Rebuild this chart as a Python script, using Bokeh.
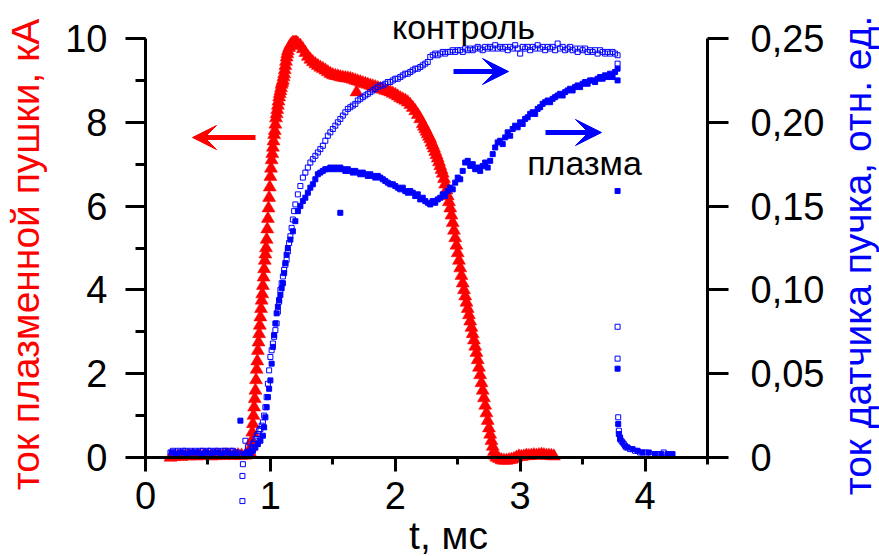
import math
from bokeh.plotting import figure
from bokeh.models import (Range1d, LinearAxis, SingleIntervalTicker, FixedTicker,
                          CustomJSTickFormatter, Label, Arrow, VeeHead)
from bokeh.embed import file_html
from bokeh.resources import INLINE

# ---------------- data ----------------
# plasma gun current, kA (left axis)
gun_t = [0.20, 0.23, 0.26, 0.29, 0.32, 0.35, 0.38, 0.41, 0.44, 0.47, 0.50, 0.53, 0.56, 0.59, 0.62,
         0.65, 0.68, 0.71, 0.74, 0.77, 0.80, 0.82,
         0.840, 0.845, 0.850, 0.855, 0.860, 0.865, 0.870, 0.875, 0.880, 0.885, 0.890, 0.895,
         0.900, 0.905, 0.910, 0.915, 0.920, 0.925, 0.930, 0.935, 0.940, 0.945, 0.950, 0.955,
         0.960, 0.965, 0.970, 0.975, 0.980, 0.985, 0.990, 0.995, 1.000, 1.005, 1.010, 1.015,
         1.020, 1.025, 1.030, 1.035, 1.040, 1.045, 1.050, 1.055, 1.060, 1.065, 1.070, 1.075,
         1.080, 1.085, 1.090, 1.095, 1.100, 1.105, 1.110, 1.115, 1.120, 1.125, 1.130, 1.135,
         1.140, 1.15, 1.16, 1.17, 1.18, 1.19, 1.20, 1.21, 1.22,
         1.24, 1.26, 1.28, 1.30, 1.32, 1.34, 1.36, 1.38, 1.40, 1.42, 1.44, 1.46, 1.48, 1.50,
         1.52, 1.54, 1.56, 1.58, 1.60, 1.62, 1.64, 1.66, 1.68, 1.69, 1.70, 1.72, 1.74, 1.76, 1.78,
         1.80, 1.82, 1.84, 1.86, 1.88, 1.90, 1.92, 1.94, 1.96, 1.98, 2.00, 2.02, 2.04, 2.06,
         2.08, 2.10, 2.12, 2.14, 2.16, 2.18, 2.20, 2.22,
         2.23, 2.24, 2.25, 2.26, 2.27, 2.28, 2.29, 2.30, 2.31, 2.32, 2.33, 2.34, 2.35, 2.36,
         2.37, 2.38, 2.39, 2.40, 2.41, 2.42, 2.43, 2.44, 2.45, 2.46, 2.47, 2.48, 2.49, 2.50,
         2.51, 2.52, 2.53, 2.54, 2.55, 2.56, 2.57, 2.58, 2.59, 2.60, 2.61, 2.62, 2.63, 2.64,
         2.65, 2.66, 2.67, 2.68, 2.69, 2.70, 2.71, 2.72, 2.73, 2.74, 2.75, 2.76, 2.77, 2.78,
         2.79, 2.80, 2.81,
         2.83, 2.85, 2.87, 2.89, 2.91, 2.93, 2.95, 2.97, 2.99, 3.01, 3.03, 3.05, 3.07, 3.09,
         3.11, 3.13, 3.15, 3.17, 3.19, 3.21, 3.23, 3.25, 3.27]
gun_ka = [0.00, 0.02, 0.03, 0.02, 0.04, 0.03, 0.05, 0.03, 0.04, 0.05, 0.04, 0.03, 0.05, 0.04, 0.05,
          0.06, 0.05, 0.04, 0.06, 0.05, 0.05, 0.08,
          0.10, 0.25, 0.40, 0.60, 0.80, 1.00, 1.20, 1.40, 1.60, 1.85, 2.10, 2.30,
          2.55, 2.75, 2.95, 3.15, 3.35, 3.55, 3.75, 3.90, 4.10, 4.30, 4.50, 4.70,
          4.85, 5.00, 5.20, 5.45, 5.70, 5.95, 6.20, 6.45, 6.70, 6.90, 7.10, 7.25,
          7.40, 7.55, 7.70, 7.80, 7.95, 8.10, 8.20, 8.30, 8.40, 8.50, 8.60, 8.68,
          8.75, 8.82, 8.90, 8.95, 9.00, 9.08, 9.15, 9.25, 9.35, 9.45, 9.55, 9.63,
          9.70, 9.78, 9.84, 9.87, 9.90, 9.90, 9.90, 9.90, 9.88,
          9.83, 9.75, 9.66, 9.57, 9.50, 9.44, 9.39, 9.35, 9.31, 9.28, 9.24, 9.20, 9.16, 9.13,
          9.11, 9.10, 9.08, 9.07, 9.06, 9.05, 9.04, 9.02, 9.00, 8.72, 8.98, 8.96, 8.94, 8.92, 8.90,
          8.88, 8.86, 8.84, 8.82, 8.80, 8.78, 8.76, 8.74, 8.72, 8.69, 8.66, 8.62, 8.58, 8.55,
          8.52, 8.48, 8.42, 8.35, 8.27, 8.18, 8.08, 7.96,
          7.90, 7.84, 7.78, 7.72, 7.66, 7.60, 7.52, 7.45, 7.38, 7.30, 7.22, 7.14, 7.05, 6.96,
          6.87, 6.78, 6.65, 6.52, 6.38, 6.24, 6.10, 5.95, 5.78, 5.60, 5.42, 5.24, 5.06, 4.88,
          4.70, 4.52, 4.34, 4.16, 4.00, 3.85, 3.70, 3.55, 3.40, 3.25, 3.10, 2.95, 2.80, 2.65,
          2.50, 2.33, 2.15, 1.97, 1.78, 1.60, 1.42, 1.24, 1.06, 0.88, 0.70, 0.55, 0.40, 0.26,
          0.14, 0.05, 0.00,
          -0.03, -0.06, -0.07, -0.07, -0.06, -0.05, -0.03, 0.00, 0.03, 0.02, 0.03, 0.05, 0.04, 0.05,
          0.06, 0.05, 0.06, 0.07, 0.06, 0.05, 0.05, 0.04, 0.03]

# beam sensor current, "контроль" (open squares), rel. units (right axis)
ctrl_t = [0.20, 0.22, 0.24, 0.26, 0.28, 0.30, 0.32, 0.34, 0.36, 0.38, 0.40, 0.42, 0.44, 0.46, 0.48,
          0.50, 0.52, 0.54, 0.56, 0.58, 0.60, 0.62, 0.64, 0.66, 0.68, 0.70, 0.72, 0.74, 0.76, 0.776,
          0.776, 0.78, 0.80, 0.81, 0.82,
          0.84, 0.85, 0.86, 0.87, 0.88, 0.89, 0.90, 0.91, 0.92, 0.93, 0.94, 0.95, 0.96, 0.97,
          0.98, 0.99, 1.00, 1.01, 1.02, 1.03, 1.04, 1.05, 1.06, 1.07, 1.08, 1.09, 1.10, 1.11,
          1.12, 1.13, 1.14, 1.15, 1.16, 1.17, 1.18, 1.19, 1.20,
          1.22, 1.24, 1.26, 1.28, 1.30, 1.32, 1.34, 1.36, 1.38, 1.40, 1.42, 1.44, 1.46, 1.48,
          1.50, 1.52, 1.54, 1.56, 1.58, 1.60, 1.62, 1.64, 1.66, 1.68, 1.70, 1.72, 1.74, 1.76,
          1.78, 1.80, 1.82, 1.84, 1.86, 1.88, 1.90, 1.92, 1.94, 1.96, 1.98, 2.00, 2.02, 2.04,
          2.06, 2.08, 2.10, 2.12, 2.14, 2.16, 2.18, 2.20, 2.22, 2.24, 2.26,
          2.28, 2.30, 2.32, 2.34, 2.36, 2.38, 2.40, 2.42, 2.44, 2.46, 2.48, 2.50, 2.52, 2.54,
          2.56, 2.58, 2.60, 2.62, 2.64, 2.66, 2.68, 2.70, 2.72, 2.74, 2.76, 2.78, 2.80, 2.82,
          2.84, 2.86, 2.88, 2.90, 2.92, 2.94, 2.96, 2.98, 3.00, 3.02, 3.04, 3.06, 3.08, 3.10,
          3.12, 3.14, 3.16, 3.18, 3.20, 3.22, 3.24, 3.26, 3.28, 3.30, 3.32, 3.34, 3.36, 3.38,
          3.40, 3.42, 3.44, 3.46, 3.48, 3.50, 3.52, 3.54, 3.56, 3.58, 3.60, 3.62, 3.64, 3.66,
          3.68, 3.70, 3.72, 3.74, 3.76, 3.78, 3.78,
          3.78, 3.78, 3.785, 3.79, 3.80, 3.81, 3.83, 3.85, 3.88, 3.92, 3.96, 4.00, 4.05, 4.10,
          4.15, 4.20]
ctrl_v = [0.003, 0.004, 0.003, 0.004, 0.003, 0.004, 0.004, 0.003, 0.004, 0.003, 0.004, 0.003, 0.004, 0.004, 0.003,
          0.004, 0.004, 0.003, 0.004, 0.004, 0.003, 0.004, 0.004, 0.003, 0.004, 0.004, 0.003, 0.003, 0.002, -0.011,
          -0.026, -0.004, 0.010, 0.003, 0.006,
          0.004, 0.006, 0.008, 0.009, 0.011, 0.013, 0.014, 0.016, 0.017, 0.019, 0.021, 0.025, 0.030, 0.036,
          0.044, 0.052, 0.060, 0.064, 0.068, 0.072, 0.076, 0.080, 0.087, 0.093, 0.100, 0.104, 0.108, 0.112,
          0.115, 0.118, 0.123, 0.128, 0.132, 0.137, 0.142, 0.147, 0.151,
          0.157, 0.162, 0.167, 0.170, 0.173, 0.176, 0.178, 0.180, 0.182, 0.184, 0.186, 0.189, 0.192, 0.194,
          0.196, 0.198, 0.200, 0.202, 0.204, 0.206, 0.208, 0.209, 0.210, 0.211, 0.213, 0.214, 0.215, 0.216,
          0.217, 0.218, 0.219, 0.220, 0.221, 0.222, 0.222, 0.223, 0.224, 0.224, 0.225, 0.226, 0.226, 0.227,
          0.228, 0.229, 0.229, 0.230, 0.231, 0.232, 0.232, 0.233, 0.234, 0.235, 0.236,
          0.239, 0.240, 0.241, 0.240, 0.241, 0.242, 0.241, 0.242, 0.242, 0.243, 0.242, 0.243, 0.243, 0.242,
          0.244, 0.243, 0.244, 0.243, 0.244, 0.245, 0.244, 0.243, 0.245, 0.244, 0.245, 0.244, 0.246, 0.244,
          0.245, 0.244, 0.245, 0.243, 0.245, 0.244, 0.246, 0.244, 0.241, 0.245, 0.244, 0.245, 0.243, 0.245,
          0.244, 0.246, 0.244, 0.245, 0.243, 0.245, 0.244, 0.245, 0.243, 0.247, 0.244, 0.245, 0.243, 0.244,
          0.245, 0.243, 0.244, 0.242, 0.244, 0.243, 0.244, 0.242, 0.243, 0.242, 0.243, 0.241, 0.243, 0.242,
          0.241, 0.242, 0.241, 0.242, 0.241, 0.240, 0.235,
          0.078, 0.059, 0.024, 0.016, 0.012, 0.010, 0.008, 0.006, 0.005, 0.004, 0.003, 0.003, 0.002, 0.002,
          0.003, 0.002]

# beam sensor current, "плазма" (filled squares), rel. units (right axis)
plasma_t = [0.21, 0.25, 0.29, 0.33, 0.37, 0.41, 0.45, 0.49, 0.53, 0.57, 0.61, 0.65, 0.69, 0.73, 0.76,
            0.79, 0.82,
            0.84, 0.86, 0.88, 0.90, 0.92, 0.94, 0.95, 0.96, 0.97, 0.98, 0.99, 1.00, 1.01, 1.02,
            1.03, 1.04, 1.05, 1.06, 1.07, 1.08, 1.09, 1.10, 1.11, 1.12, 1.13, 1.14, 1.16, 1.18,
            1.20, 1.22, 1.24, 1.26, 1.28, 1.30, 1.32, 1.34, 1.36, 1.38, 1.40, 1.42, 1.44, 1.46,
            1.48, 1.50, 1.52, 1.54, 1.56, 1.56, 1.58, 1.60, 1.62, 1.64, 1.66, 1.68, 1.70, 1.72, 1.74,
            1.76, 1.78, 1.80, 1.82, 1.84, 1.86, 1.88, 1.90, 1.92, 1.94, 1.96, 1.98, 2.00, 2.02,
            2.04, 2.06, 2.08, 2.10, 2.12, 2.14, 2.16, 2.18, 2.20, 2.22, 2.24, 2.26, 2.28, 2.30,
            2.32, 2.34, 2.36, 2.38, 2.40, 2.42, 2.44, 2.46, 2.48, 2.50, 2.52, 2.54, 2.56, 2.58,
            2.60, 2.62, 2.64, 2.66, 2.68, 2.70, 2.72, 2.74, 2.76, 2.78, 2.80, 2.82, 2.84, 2.86,
            2.88, 2.90, 2.92, 2.94, 2.96, 2.98, 3.00, 3.02, 3.04, 3.06, 3.08, 3.10, 3.12, 3.14,
            3.16, 3.18, 3.20, 3.22, 3.24, 3.26, 3.28, 3.30, 3.32, 3.34, 3.36, 3.38, 3.40, 3.42,
            3.44, 3.46, 3.48, 3.50, 3.52, 3.54, 3.56, 3.58, 3.60, 3.62, 3.64, 3.66, 3.68, 3.70,
            3.72, 3.74, 3.76, 3.78, 3.78,
            3.78, 3.78, 3.785, 3.79, 3.80, 3.82, 3.84, 3.86, 3.90, 3.94, 3.98, 4.03, 4.08, 4.13,
            4.18, 4.22]
plasma_v = [0.003, 0.002, 0.003, 0.002, 0.003, 0.003, 0.002, 0.003, 0.002, 0.003, 0.002, 0.003, 0.002, 0.002, 0.022,
            0.002, 0.003,
            0.002, 0.004, 0.006, 0.008, 0.010, 0.013, 0.018, 0.024, 0.030, 0.036, 0.041, 0.046, 0.056, 0.066,
            0.073, 0.080, 0.086, 0.090, 0.094, 0.097, 0.101, 0.104, 0.110, 0.116, 0.121, 0.125, 0.130, 0.135,
            0.141, 0.147, 0.150, 0.153, 0.155, 0.158, 0.161, 0.163, 0.166, 0.169, 0.170, 0.171, 0.172, 0.172,
            0.173, 0.172, 0.173, 0.172, 0.173, 0.146, 0.172, 0.171, 0.172, 0.171, 0.170, 0.171, 0.170, 0.169, 0.170,
            0.169, 0.168, 0.169, 0.168, 0.167, 0.168, 0.167, 0.166, 0.165, 0.164, 0.163, 0.163, 0.162, 0.161,
            0.160, 0.161, 0.159, 0.158, 0.159, 0.158, 0.156, 0.157, 0.154, 0.155, 0.153, 0.152, 0.151, 0.153,
            0.152, 0.154, 0.155, 0.157, 0.156, 0.159, 0.161, 0.160, 0.164, 0.167, 0.166, 0.171, 0.176, 0.177,
            0.174, 0.175, 0.172, 0.173, 0.171, 0.174, 0.176, 0.173, 0.177, 0.181, 0.185, 0.188, 0.189, 0.187,
            0.191, 0.194, 0.192, 0.196, 0.198, 0.197, 0.200, 0.199, 0.202, 0.203, 0.205, 0.206, 0.205, 0.208,
            0.209, 0.211, 0.212, 0.213, 0.212, 0.214, 0.215, 0.216, 0.217, 0.216, 0.218, 0.219, 0.220, 0.219,
            0.221, 0.222, 0.221, 0.223, 0.224, 0.223, 0.225, 0.225, 0.224, 0.226, 0.227, 0.226, 0.228, 0.227,
            0.229, 0.227, 0.230, 0.232, 0.225,
            0.159, 0.053, 0.020, 0.014, 0.011, 0.009, 0.007, 0.006, 0.005, 0.004, 0.003, 0.003, 0.002, 0.002,
            0.002, 0.002]

x_ticks = [0, 1, 2, 3, 4]
left_ticks = [0, 2, 4, 6, 8, 10]
right_ticks = [0.0, 0.05, 0.10, 0.15, 0.20, 0.25]
x_end = 4.5

RED = "#ff0000"
BLUE = "#0000ff"
FONT = "Liberation Sans"
TICK_FS = "38px"
LABEL_FS = "39px"
NOTE_FS = "34px"

W, H = 879, 556
# screen placement of the axes box: x 0 -> 145 px, 4.5 -> 707 px; y 0 -> 457 px, 10 -> 38 px
XL, XR, YB, YT = 145, 707, 457, 38
SX = (XR - XL) / (x_end - x_ticks[0])
SY = (YB - YT) / (left_ticks[-1] - left_ticks[0])
X0, X1 = -XL / SX, (W - XL) / SX
Y0, Y1 = -(H - YB) / SY, YB / SY
RS = right_ticks[-1] / left_ticks[-1]


def dx(px):
    return (px - XL) / SX


def dy(py):
    return (YB - py) / SY


p = figure(width=W, height=H, x_range=Range1d(X0, X1), y_range=Range1d(Y0, Y1),
           output_backend="svg", toolbar_location=None,
           min_border_left=0, min_border_right=0, min_border_top=0, min_border_bottom=0,
           x_axis_location=None, y_axis_location=None)
p.extra_y_ranges = {"beam": Range1d(Y0 * RS, Y1 * RS)}
p.outline_line_color = None
p.grid.visible = False
p.background_fill_color = "white"
p.border_fill_color = "white"


def style_axis(ax, tick_out, minor_out):
    ax.axis_line_width = 3
    ax.axis_line_color = "black"
    ax.major_tick_line_width = 3
    ax.minor_tick_line_width = 3
    ax.major_tick_in = 0
    ax.minor_tick_in = 0
    ax.major_tick_out = tick_out
    ax.minor_tick_out = minor_out
    ax.major_label_text_font = FONT
    ax.major_label_text_font_size = TICK_FS
    ax.major_label_text_color = "black"


xaxis = LinearAxis(ticker=SingleIntervalTicker(interval=1, num_minor_ticks=2),
                   bounds=(x_ticks[0], x_end))
style_axis(xaxis, 14, 7)
xaxis.major_label_standoff = 10
xaxis.fixed_location = 0
p.add_layout(xaxis, "below")

yaxis = LinearAxis(ticker=SingleIntervalTicker(interval=2, num_minor_ticks=2),
                   bounds=(left_ticks[0], left_ticks[-1]))
style_axis(yaxis, 20, 10)
yaxis.major_label_standoff = 18
yaxis.fixed_location = 0
p.add_layout(yaxis, "left")

raxis = LinearAxis(y_range_name="beam", ticker=FixedTicker(ticks=right_ticks),
                   bounds=(right_ticks[0], right_ticks[-1]),
                   formatter=CustomJSTickFormatter(
                       code="return tick < 1e-9 ? '0' : tick.toFixed(2).replace('.', ',');"))
style_axis(raxis, 21, 0)
raxis.minor_tick_line_color = None
raxis.major_label_standoff = 22
raxis.fixed_location = x_end
p.add_layout(raxis, "right")

# ---------------- data glyphs ----------------
p.scatter(gun_t, gun_ka, marker="triangle", size=13, fill_color=RED, line_color=RED,
          line_width=0.5)
p.scatter(ctrl_t, ctrl_v, y_range_name="beam", marker="square", size=5, fill_color=None,
          line_color=BLUE, line_width=1)
p.scatter(plasma_t, plasma_v, y_range_name="beam", marker="square", size=5, fill_color=BLUE,
          line_color=BLUE, line_width=1)

# ---------------- annotations ----------------
p.add_layout(Arrow(end=VeeHead(size=24, fill_color=RED, line_color=RED, line_width=1),
                   x_start=dx(255), y_start=dy(137), x_end=dx(192), y_end=dy(137),
                   line_color=RED, line_width=5))
p.add_layout(Arrow(end=VeeHead(size=26, fill_color=BLUE, line_color=BLUE, line_width=1),
                   x_start=dx(453), y_start=dy(71), x_end=dx(508), y_end=dy(71),
                   line_color=BLUE, line_width=5))
p.add_layout(Arrow(end=VeeHead(size=26, fill_color=BLUE, line_color=BLUE, line_width=1),
                   x_start=dx(545), y_start=dy(132), x_end=dx(601), y_end=dy(132),
                   line_color=BLUE, line_width=5))

p.add_layout(Label(x=dx(463), y=dy(26), text="контроль", text_align="center",
                   text_baseline="alphabetic", text_font=FONT, text_font_size=NOTE_FS,
                   text_color="black"))
p.add_layout(Label(x=dx(584), y=dy(162), text="плазма", text_align="center",
                   text_baseline="alphabetic", text_font=FONT, text_font_size=NOTE_FS,
                   text_color="black"))
p.add_layout(Label(x=dx(448), y=dy(535), text="t, мс", text_align="center",
                   text_baseline="alphabetic", text_font=FONT, text_font_size=LABEL_FS,
                   text_color="black"))
p.add_layout(Label(x=dx(25), y=dy(254), text="ток плазменной пушки, кА", text_align="center",
                   text_baseline="middle", angle=math.pi / 2, angle_units="rad",
                   text_font=FONT, text_font_size=LABEL_FS, text_color=RED))
p.add_layout(Label(x=dx(857), y=dy(255), text="ток датчика пучка, отн. ед.", text_align="center",
                   text_baseline="middle", angle=math.pi / 2, angle_units="rad",
                   text_font=FONT, text_font_size=LABEL_FS, text_color=BLUE))

open("out.html", "w").write(file_html(p, INLINE))
